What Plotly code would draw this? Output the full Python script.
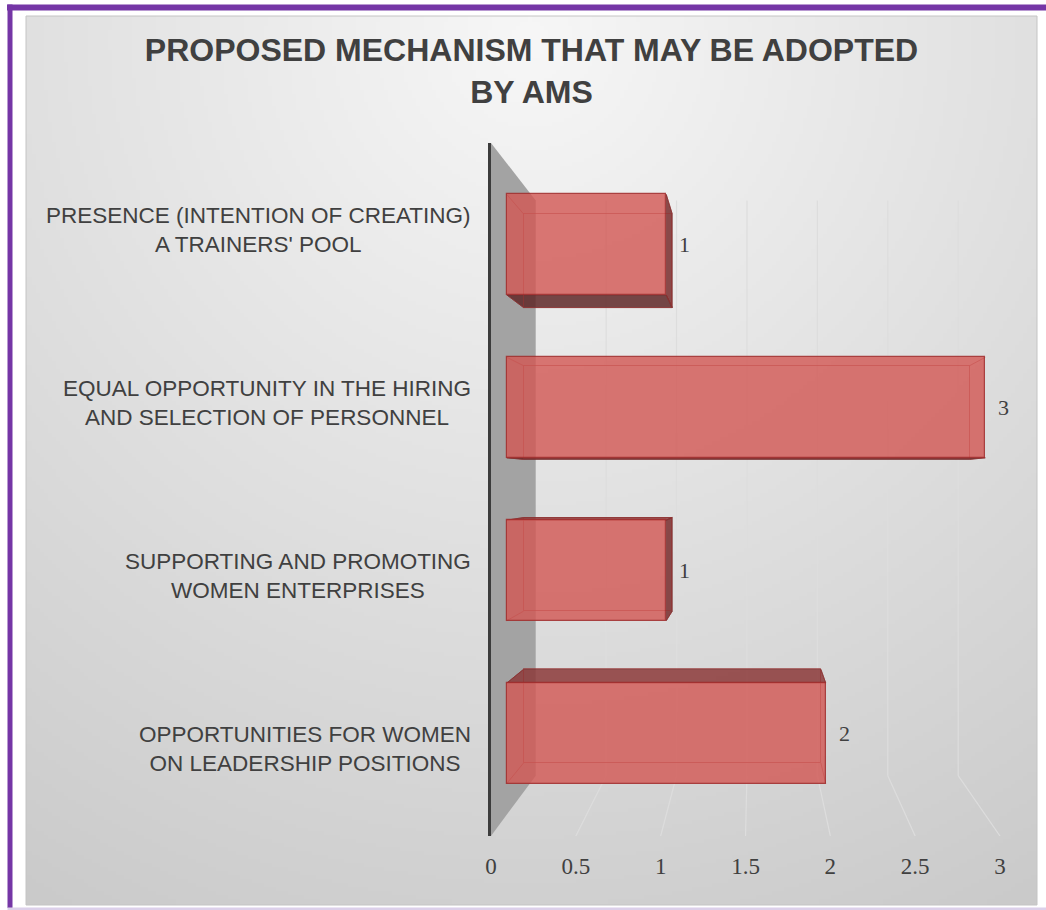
import base64
import struct
import zlib

import numpy as np
import plotly.graph_objects as go

# ---- data -------------------------------------------------------------
categories = [
    "PRESENCE (INTENTION OF CREATING)<br>A TRAINERS' POOL",
    "EQUAL OPPORTUNITY IN THE HIRING<br>AND SELECTION OF PERSONNEL",
    "SUPPORTING AND PROMOTING<br>WOMEN ENTERPRISES",
    "OPPORTUNITIES FOR WOMEN<br>ON LEADERSHIP POSITIONS",
]
values = [1, 3, 1, 2]
x_ticks = [0, 0.5, 1, 1.5, 2, 2.5, 3]
title_text = "PROPOSED MECHANISM THAT MAY BE ADOPTED<br>BY AMS"

# ---- page / plot geometry (pixels) ------------------------------------
W, H = 1046, 910
L, R, T, B = 491, 1012, 143, 836          # front plane of the 3-D box
PX_PER_UNIT = 169.67
ROW = (B - T) / len(categories)
X_MAX = (R - L) / PX_PER_UNIT
Y_TOP, Y_BOT = -0.5, len(categories) - 0.5

# perspective: vanishing point (data units of the front plane) and depth scales
VX = (754 - L) / PX_PER_UNIT
VY = (481 - T) / ROW - 0.5
S_FRONT, S_BACK, S_WALL = 0.94, 0.876, 0.83
HALF = 0.3085                               # half bar thickness in row units

TEXT = "#404040"
SANS = "Liberation Sans, Arial, sans-serif"
SERIF = "Liberation Serif, Cambria, serif"


def proj(v, i, s):
    """Project a point lying at depth scale s onto front-plane data coords."""
    return VX + (v - VX) * s, VY + (i - VY) * s


def plane_ranges(s):
    xr = [VX + (0 - VX) / s, VX + (X_MAX - VX) / s]
    yr = [VY + (Y_BOT - VY) / s, VY + (Y_TOP - VY) / s]
    return xr, yr


def xp(px):
    return (px - L) / (R - L)


def yp(py):
    return (B - py) / (B - T)


def png_uri(rgb):
    h, w, _ = rgb.shape
    raw = b"".join(b"\x00" + rgb[r].tobytes() for r in range(h))

    def chunk(tag, data):
        return (struct.pack(">I", len(data)) + tag + data
                + struct.pack(">I", zlib.crc32(tag + data) & 0xFFFFFFFF))

    png = (b"\x89PNG\r\n\x1a\n"
           + chunk(b"IHDR", struct.pack(">IIBBBBB", w, h, 8, 2, 0, 0, 0))
           + chunk(b"IDAT", zlib.compress(raw, 9))
           + chunk(b"IEND", b""))
    return "data:image/png;base64," + base64.b64encode(png).decode()


# chart-area background: soft radial fill, light at the top centre
CA_L, CA_T, CA_R, CA_B = 26, 16, 1037, 905
gw, gh = 253, 223
gx = CA_L + (np.arange(gw) + 0.5) * (CA_R - CA_L) / gw
gy = CA_T + (np.arange(gh) + 0.5) * (CA_B - CA_T) / gh
GX, GY = np.meshgrid(gx, gy)
dist = np.hypot(GX - 530, GY - 40)
shade = np.clip(247 - 0.045 * dist, 190, 247).astype(np.uint8)
bg_rgb = np.dstack([shade, shade, shade])

fig = go.Figure()

idx = list(range(len(categories)))

# ---- bar side faces (projected between the front and back of each box) --
for i, v in zip(idx, values):
    top, bot = i - HALF, i + HALF
    corners = {"lt": (0, top), "rt": (v, top), "lb": (0, bot), "rb": (v, bot)}
    f = {k: proj(*p, S_FRONT) for k, p in corners.items()}
    b = {k: proj(*p, S_BACK) for k, p in corners.items()}
    faces = []
    if bot < VY:   # underside seen from below
        faces.append(([f["lb"], f["rb"], b["rb"], b["lb"]], "rgba(95,40,40,0.85)"))
    if top > VY:   # upper side seen from above
        faces.append(([f["lt"], f["rt"], b["rt"], b["lt"]], "rgba(140,58,58,0.85)"))
    if v < VX:     # right end seen from the right
        faces.append(([f["rt"], f["rb"], b["rb"], b["rt"]], "rgba(120,45,45,0.85)"))
    for pts, col in faces:
        xs = [p[0] for p in pts] + [pts[0][0]]
        ys = [p[1] for p in pts] + [pts[0][1]]
        fig.add_trace(go.Scatter(
            x=xs, y=ys, mode="lines", fill="toself", fillcolor=col,
            line=dict(color="rgba(120,40,40,0.7)", width=1),
            hoverinfo="skip", showlegend=False, xaxis="x", yaxis="y"))
    # depth edges joining the front and back corners
    ex, ey = [], []
    for k in ("lt", "rt", "lb", "rb"):
        ex += [f[k][0], b[k][0], None]
        ey += [f[k][1], b[k][1], None]
    fig.add_trace(go.Scatter(
        x=ex, y=ey, mode="lines", line=dict(color="rgba(150,50,50,0.55)", width=1),
        hoverinfo="skip", showlegend=False, xaxis="x", yaxis="y"))

# ---- back faces of the bars --------------------------------------------
fig.add_trace(go.Bar(
    x=values, y=idx, orientation="h", width=2 * HALF,
    marker=dict(color="rgba(0,0,0,0)", line=dict(color="rgba(150,50,50,0.6)", width=1)),
    hoverinfo="skip", showlegend=False, xaxis="x2", yaxis="y2"))

# ---- front faces of the bars -------------------------------------------
fig.add_trace(go.Bar(
    x=values, y=idx, orientation="h", width=2 * HALF,
    marker=dict(color="rgba(210,86,83,0.8)", line=dict(color="rgba(160,45,45,0.85)", width=1.2)),
    hovertemplate="%{x}<extra></extra>", showlegend=False, xaxis="x3", yaxis="y3"))

# ---- side wall and perspective gridlines -------------------------------
shapes = []
w0 = (0, Y_TOP)
w1 = proj(0, Y_TOP, S_WALL)
w2 = proj(0, Y_BOT, S_WALL)
w3 = (0, Y_BOT)
shapes.append(dict(
    type="path", xref="x", yref="y", layer="below",
    path=f"M {w0[0]},{w0[1]} L {w1[0]},{w1[1]} L {w2[0]},{w2[1]} L {w3[0]},{w3[1]} Z",
    fillcolor="#a3a3a3", line=dict(width=0)))
for v in x_ticks[1:]:
    bt = proj(v, Y_TOP, S_WALL)
    bb = proj(v, Y_BOT, S_WALL)
    for (a, c) in ((bt, bb), (bb, (v, Y_BOT))):
        shapes.append(dict(type="line", xref="x", yref="y", layer="below",
                           x0=a[0], y0=a[1], x1=c[0], y1=c[1],
                           line=dict(color="#dddddd", width=1.2)))

# ---- page frame -------------------------------------------------------
PURPLE = "#7536a6"
shapes += [
    dict(type="rect", xref="paper", yref="paper", layer="below",
         x0=xp(CA_L), x1=xp(CA_R), y0=yp(CA_B), y1=yp(CA_T),
         line=dict(color="#c4c4c4", width=1), fillcolor="rgba(0,0,0,0)"),
    dict(type="rect", xref="paper", yref="paper", x0=xp(7), x1=xp(W + 2),
         y0=yp(10.5), y1=yp(4.5), fillcolor=PURPLE, line=dict(width=0)),
    dict(type="rect", xref="paper", yref="paper", x0=xp(7.5), x1=xp(12.5),
         y0=yp(908), y1=yp(4.5), fillcolor=PURPLE, line=dict(width=0)),
    dict(type="rect", xref="paper", yref="paper", x0=xp(7.5), x1=xp(W + 2),
         y0=yp(910), y1=yp(907.5), fillcolor="#dcd0ea", line=dict(width=0)),
]

# ---- text -------------------------------------------------------------
annotations = []
for i, name in zip(idx, categories):
    annotations.append(dict(
        xref="paper", yref="y", x=xp(473), y=i, xanchor="right", yanchor="middle",
        align="center", text=name, showarrow=False,
        font=dict(family=SANS, size=22.5, color=TEXT)))
for i, v in zip(idx, values):
    annotations.append(dict(
        xref="x3", yref="y3", x=v, y=i, xshift=18.5, xanchor="center",
        yanchor="middle", text=str(v), showarrow=False,
        font=dict(family=SERIF, size=22, color=TEXT)))

xr2, yr2 = plane_ranges(S_BACK)
xr3, yr3 = plane_ranges(S_FRONT)
hidden = dict(visible=False, showgrid=False, zeroline=False, fixedrange=True)

fig.update_layout(
    width=W, height=H, autosize=False,
    margin=dict(l=L, r=W - R, t=T, b=H - B, pad=0, autoexpand=False),
    paper_bgcolor="white", plot_bgcolor="rgba(0,0,0,0)",
    title=dict(text=title_text, xref="container", yref="container",
               x=531.5 / W, y=1 - 61 / H, xanchor="center", yanchor="middle",
               font=dict(family=SANS, size=32, color=TEXT, weight="bold")),
    xaxis=dict(range=[0, X_MAX], tickmode="array", tickvals=x_ticks,
               ticktext=[f"{t:g}" for t in x_ticks],
               ticks="outside", ticklen=9, tickcolor="rgba(0,0,0,0)",
               tickfont=dict(family=SERIF, size=23, color=TEXT),
               showgrid=False, zeroline=False, showline=False, fixedrange=True),
    yaxis=dict(range=[Y_BOT, Y_TOP], showticklabels=False, ticks="",
               showgrid=False, zeroline=False, showline=True,
               linecolor="#3c3c3c", linewidth=2.5, fixedrange=True),
    xaxis2=dict(overlaying="x", range=xr2, **hidden),
    yaxis2=dict(overlaying="y", range=yr2, **hidden),
    xaxis3=dict(overlaying="x", range=xr3, **hidden),
    yaxis3=dict(overlaying="y", range=yr3, **hidden),
    bargap=0, shapes=shapes, annotations=annotations,
    images=[dict(source=png_uri(bg_rgb), xref="paper", yref="paper",
                 x=xp(CA_L), y=yp(CA_T), sizex=(CA_R - CA_L) / (R - L),
                 sizey=(CA_B - CA_T) / (B - T), xanchor="left", yanchor="top",
                 sizing="stretch", layer="below")],
)

fig.write_html("out.html")
